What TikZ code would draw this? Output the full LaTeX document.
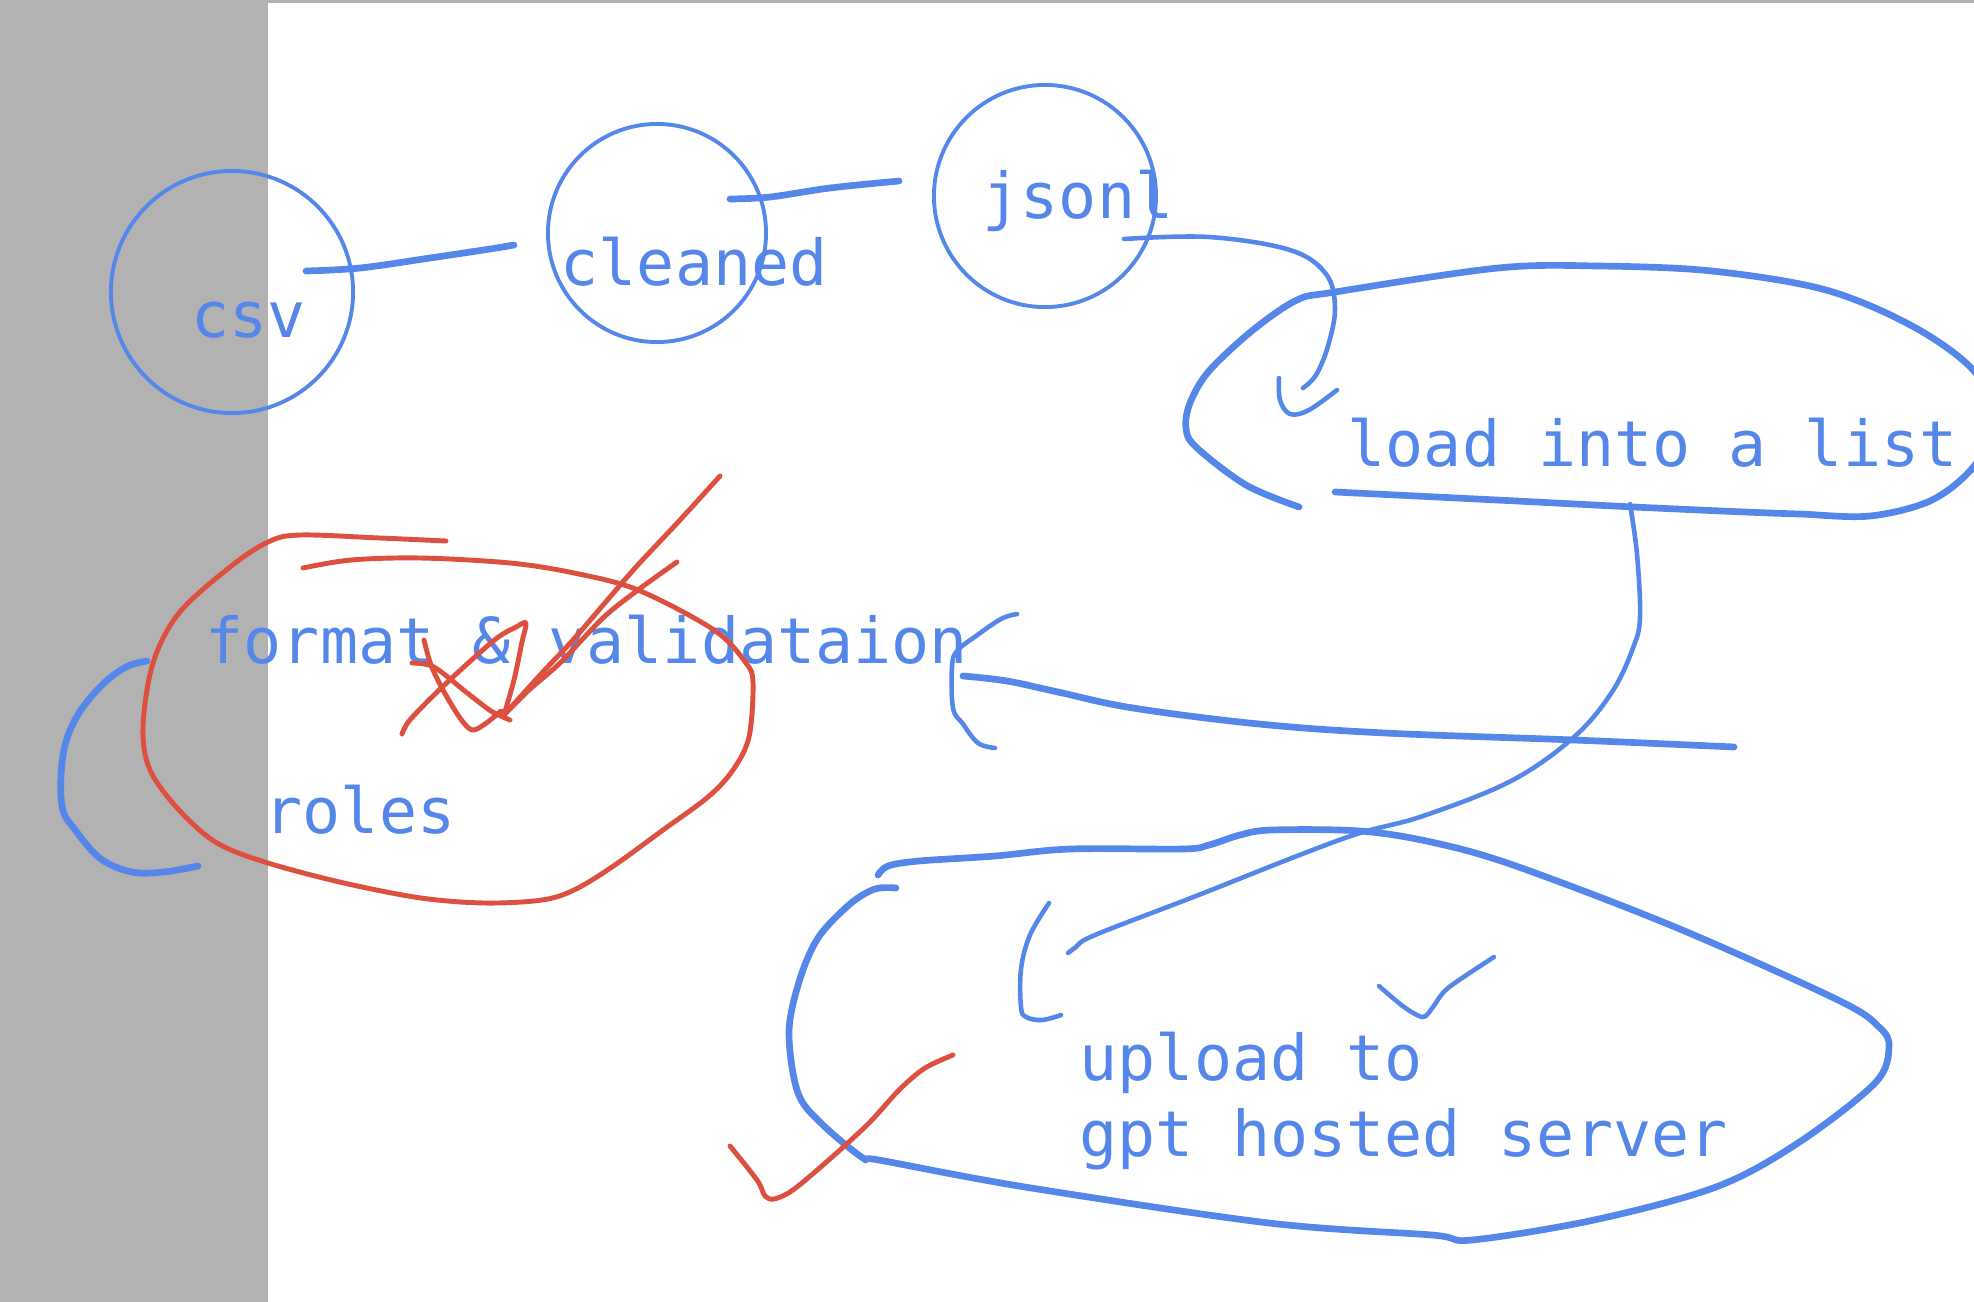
\documentclass[tikz,border=0pt]{standalone}
\usepackage{fontspec}
\setmonofont{DejaVu Sans Mono}
\definecolor{inkblue}{HTML}{5586EA}
\definecolor{inkred}{HTML}{DD5040}
\definecolor{sidegray}{HTML}{B2B2B2}
\begin{document}
\begin{tikzpicture}[x=0.01cm, y=-0.01cm, line cap=round, line join=round,
  word/.style={text=inkblue, font=\ttfamily\fontsize{18}{22}\selectfont, inner sep=0pt, anchor=base west},
  ring/.style={draw=inkblue, line width=1.1pt, circle, inner sep=0pt, outer sep=0pt},
  bluepen/.style={draw=inkblue, line width=1.9pt},
  thinpen/.style={draw=inkblue, line width=1.3pt},
  redpen/.style={draw=inkred, line width=1.4pt}]
\useasboundingbox (0,0) rectangle (1974,1302);
\clip (0,0) rectangle (1974,1302);
\fill[sidegray] (0,0) rectangle (268,1302);
\fill[sidegray] (268,0) rectangle (1974,3);

\node[ring, minimum size=2.42cm] (csvring) at (232,292) {};
\node[ring, minimum size=2.18cm] (cleanedring) at (657,233) {};
\node[ring, minimum size=2.22cm] (jsonlring) at (1045,196) {};

\node[word] (csv) at (191,337) {csv};
\node[word] (cleaned) at (560,285) {cleaned};
\node[word] (jsonl) at (982,218) {jsonl};
\node[word] (load) at (1347,466) {load into a list};
\node[word] (format) at (205,663) {format \& validataion};
\node[word] (roles) at (264,833) {roles};
\node[word] (upload) at (1079,1080) {upload to};
\node[word] (server) at (1079,1156) {gpt hosted server};

\draw[bluepen] plot[smooth, tension=0.6] coordinates {(306,271) (360,268) (430,258) (490,249) (514,245)};
\draw[bluepen] plot[smooth, tension=0.6] coordinates {(730,199) (770,197) (830,188) (899,181)};
\draw[thinpen] plot[smooth, tension=0.6] coordinates {(1124,239) (1209,237) (1290,250) (1326,274) (1335,308) (1328,346) (1316,375) (1303,388)};
\draw[thinpen] plot[smooth, tension=0.6] coordinates {(1279,378) (1280,400) (1290,414) (1309,410) (1337,390)};

\draw[bluepen] plot[smooth, tension=0.55] coordinates {(1299,507) (1246,485) (1196,447) (1186,428) (1190,403) (1209,371) (1253,330) (1297,300) (1335,292) (1498,268) (1599,266) (1712,271) (1826,290) (1914,327) (1974,371) (1995,420) (1975,465) (1932,500) (1870,516) (1800,514) (1745,512) (1634,507) (1497,500) (1335,492)};

\draw[thinpen] plot[smooth, tension=0.6] coordinates {(1630,504) (1637,554) (1640,617) (1633,648) (1612,692) (1574,737) (1511,781) (1423,816) (1360,833) (1297,856) (1196,896) (1095,935) (1076,947) (1068,953)};

\draw[bluepen] plot[smooth, tension=0.6] coordinates {(1734,747) (1574,740) (1385,733) (1259,724) (1133,708) (1058,692) (1007,681) (963,676)};
\draw[thinpen] plot[smooth, tension=0.6] coordinates {(1017,614) (1001,619) (976,636) (957,651) (952,667) (953,708) (963,724) (978,743) (995,748)};

\draw[bluepen] plot[smooth, tension=0.55] coordinates {(878,875) (888,866) (919,861) (995,856) (1070,849) (1183,849) (1209,845) (1240,835) (1272,830) (1360,831) (1431,842) (1513,865) (1675,927) (1838,1000) (1879,1027) (1889,1047) (1875,1083) (1798,1143) (1716,1187) (1594,1220) (1472,1240) (1432,1235) (1269,1223) (1025,1187) (879,1160) (863,1158) (822,1124) (798,1093) (789,1033) (799,982) (818,938) (850,904) (875,889) (896,888)};

\draw[thinpen] plot[smooth, tension=0.6] coordinates {(1049,903) (1030,935) (1021,969) (1021,1007) (1026,1017) (1042,1020) (1061,1015)};
\draw[thinpen] plot[smooth, tension=0.5] coordinates {(1379,986) (1404,1007) (1423,1017) (1433,1007) (1448,988) (1494,957)};

\draw[bluepen] plot[smooth, tension=0.6] coordinates {(147,661) (126,667) (101,686) (76,718) (63,755) (62,806) (76,831) (101,859) (132,872) (164,872) (198,866)};

\draw[redpen] plot[smooth, tension=0.55] coordinates {(446,541) (380,538) (300,535) (268,542) (230,567) (179,613) (153,663) (143,727) (150,770) (179,810) (217,843) (268,863) (344,883) (421,898) (485,903) (542,900) (574,890) (612,867) (663,830) (708,797) (733,770) (749,737) (753,683) (746,663) (714,630) (638,590) (574,573) (510,563) (421,558) (351,560) (303,568)};
\draw[redpen] plot[smooth, tension=0.5] coordinates {(720,476) (680,520) (636,567) (604,604) (573,640) (541,674) (504,715)};
\draw[redpen] plot[smooth, tension=0.5] coordinates {(677,562) (642,587) (604,617) (560,663) (529,690) (504,715)};
\draw[redpen] plot[smooth, tension=0.5] coordinates {(504,715) (514,680) (522,642) (526,623) (516,627) (497,638) (466,665) (434,695) (409,721) (402,734)};
\draw[redpen] plot[smooth, tension=0.5] coordinates {(424,640) (431,665) (443,690) (460,718) (472,730) (485,724) (501,711)};
\draw[redpen] plot[smooth, tension=0.5] coordinates {(412,663) (434,667) (466,692) (491,711) (510,720)};

\draw[redpen] plot[smooth, tension=0.5] coordinates {(730,1146) (747,1167) (759,1183) (765,1196) (774,1199) (793,1190) (831,1158) (869,1123) (900,1089) (925,1068) (953,1055)};
\end{tikzpicture}
\end{document}
